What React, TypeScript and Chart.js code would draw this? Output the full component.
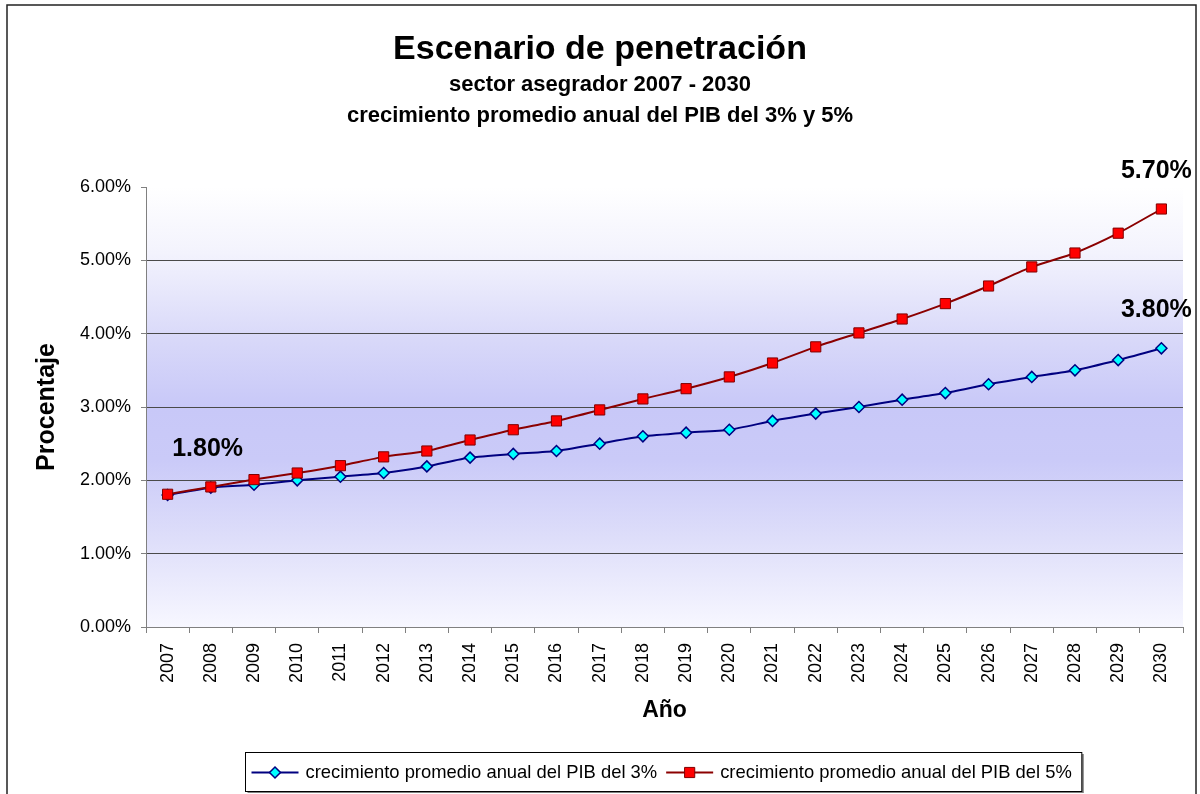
import React, { useEffect, useRef } from 'react';
import { Chart, registerables } from 'chart.js';

Chart.register(...registerables);

const FONT = '"Liberation Sans", Arial, Helvetica, sans-serif';

const years = ['2007', '2008', '2009', '2010', '2011', '2012', '2013', '2014', '2015', '2016', '2017', '2018', '2019', '2020', '2021', '2022', '2023', '2024', '2025', '2026', '2027', '2028', '2029', '2030'];

const serie3 = [1.80, 1.90, 1.94, 2.00, 2.05, 2.10, 2.19, 2.31, 2.36, 2.40, 2.50, 2.60, 2.65, 2.69, 2.81, 2.91, 3.00, 3.10, 3.19, 3.31, 3.41, 3.50, 3.64, 3.80];
const serie5 = [1.81, 1.91, 2.01, 2.10, 2.20, 2.32, 2.40, 2.55, 2.69, 2.81, 2.96, 3.11, 3.25, 3.41, 3.60, 3.82, 4.01, 4.20, 4.41, 4.65, 4.91, 5.10, 5.37, 5.70];

const label3 = 'crecimiento promedio anual del PIB del 3%';
const label5 = 'crecimiento promedio anual del PIB del 5%';

const yMin = 0;
const yMax = 6;
const yStep = 1;

const titleText = 'Escenario de penetración';
const subtitleLines = ['sector asegrador 2007 - 2030', 'crecimiento promedio anual del PIB del 3% y 5%'];
const xTitle = 'Año';
const yTitle = 'Procentaje';

// annotations: [datasetIndex, dataIndex, text]
const annotations: [number, number, string][] = [
  [0, 0, '1.80%'],
  [0, 23, '3.80%'],
  [1, 23, '5.70%'],
];

const backgroundPlugin = {
  id: 'bgPlot',
  beforeDraw(chart: any) {
    const { ctx, chartArea: a, width, height } = chart;
    ctx.save();
    ctx.fillStyle = '#ffffff';
    ctx.fillRect(0, 0, width, height);
    const g = ctx.createLinearGradient(0, a.top, 0, a.bottom);
    g.addColorStop(0, '#ffffff');
    g.addColorStop(0.15, '#f3f3fd');
    g.addColorStop(0.35, '#d8d8f9');
    g.addColorStop(0.5, '#c8c8f8');
    g.addColorStop(0.62, '#cacaf8');
    g.addColorStop(0.8, '#dedefa');
    g.addColorStop(1, '#f7f7ff');
    ctx.fillStyle = g;
    ctx.fillRect(a.left, a.top, a.right - a.left, a.bottom - a.top);
    ctx.restore();
  },
  afterDraw(chart: any) {
    const { ctx, height } = chart;
    ctx.save();
    ctx.strokeStyle = '#222222';
    ctx.lineWidth = 1.5;
    ctx.strokeRect(7, 5, 1189, height + 20);
    ctx.restore();
  },
};

const labelsPlugin = {
  id: 'valueLabels',
  afterDatasetsDraw(chart: any) {
    const { ctx } = chart;
    ctx.save();
    ctx.font = 'bold 25px ' + FONT;
    ctx.fillStyle = '#000000';
    ctx.textAlign = 'center';
    ctx.textBaseline = 'middle';
    annotations.forEach(([ds, idx, text], k) => {
      const el = chart.getDatasetMeta(ds).data[idx];
      if (!el) return;
      const dx = k === 0 ? 40 : -5;
      const dy = k === 0 ? -46 : -38;
      ctx.fillText(text, el.x + dx, el.y + dy);
    });
    ctx.restore();
  },
};

function drawMarker(ctx: any, style: string, x: number, y: number, r: number, fill: string, stroke: string, bw: number) {
  ctx.save();
  ctx.fillStyle = fill;
  ctx.strokeStyle = stroke;
  ctx.lineWidth = bw;
  ctx.beginPath();
  if (style === 'rectRot') {
    ctx.moveTo(x, y - r);
    ctx.lineTo(x + r, y);
    ctx.lineTo(x, y + r);
    ctx.lineTo(x - r, y);
    ctx.closePath();
  } else {
    const s = r * Math.SQRT1_2;
    ctx.rect(x - s, y - s, 2 * s, 2 * s);
  }
  ctx.fill();
  ctx.stroke();
  ctx.restore();
}

const legendPlugin = {
  id: 'boxLegend',
  afterDraw(chart: any) {
    const { ctx } = chart;
    const ds = chart.data.datasets;
    ctx.save();
    ctx.font = '18.4px ' + FONT;
    const lineLen = 47;
    const gapText = 7;
    const gapItem = 9;
    const padL = 6;
    const padR = 10;
    const widths = ds.map((d: any) => ctx.measureText(d.label).width);
    let total = padL + padR;
    widths.forEach((w: number, i: number) => {
      total += lineLen + gapText + w + (i < widths.length - 1 ? gapItem : 0);
    });
    const cx = 663.5;
    const top = 752;
    const h = 39;
    const left = Math.round(cx - total / 2) + 0.5;
    ctx.fillStyle = '#808080';
    ctx.fillRect(left + 2, top + 2, total, h);
    ctx.fillStyle = '#ffffff';
    ctx.fillRect(left, top, total, h);
    ctx.strokeStyle = '#000000';
    ctx.lineWidth = 1;
    ctx.strokeRect(left, top + 0.5, total, h);
    const cy = top + h / 2 + 1;
    let x = left + padL;
    ds.forEach((d: any, i: number) => {
      ctx.strokeStyle = d.borderColor;
      ctx.lineWidth = d.borderWidth;
      ctx.beginPath();
      ctx.moveTo(x, cy);
      ctx.lineTo(x + lineLen, cy);
      ctx.stroke();
      drawMarker(ctx, d.pointStyle, x + lineLen / 2, cy, d.pointRadius, d.pointBackgroundColor, d.pointBorderColor, d.pointBorderWidth);
      x += lineLen + gapText;
      ctx.fillStyle = '#000000';
      ctx.textAlign = 'left';
      ctx.textBaseline = 'middle';
      ctx.fillText(d.label, x, cy);
      x += widths[i] + gapItem;
    });
    ctx.restore();
  },
};

export default function App() {
  const ref = useRef<HTMLCanvasElement | null>(null);

  useEffect(() => {
    if (!ref.current) return;
    const chart = new Chart(ref.current, {
      type: 'line',
      data: {
        labels: years,
        datasets: [
          {
            label: label3,
            data: serie3,
            borderColor: '#000080',
            borderWidth: 2,
            pointStyle: 'rectRot',
            pointRadius: 5.5,
            pointHoverRadius: 5.5,
            pointBackgroundColor: '#00ffff',
            pointBorderColor: '#000080',
            pointBorderWidth: 1.5,
            tension: 0.2,
            fill: false,
            order: 2,
          },
          {
            label: label5,
            data: serie5,
            borderColor: '#8b0000',
            borderWidth: 2,
            pointStyle: 'rect',
            pointRadius: 7.2,
            pointHoverRadius: 7.2,
            pointBackgroundColor: '#ff0000',
            pointBorderColor: '#800000',
            pointBorderWidth: 1,
            tension: 0.2,
            fill: false,
            order: 1,
          },
        ],
      },
      options: {
        responsive: false,
        animation: false,
        devicePixelRatio: 1,
        layout: { padding: { top: 0, left: 0, right: 0, bottom: 47 } },
        plugins: {
          legend: { display: false },
          tooltip: { enabled: false },
          title: {
            display: true,
            text: titleText,
            color: '#000000',
            font: { family: FONT, size: 34, weight: 'bold', lineHeight: 1.2 },
            padding: { top: 29, bottom: 0 },
          },
          subtitle: {
            display: true,
            text: subtitleLines,
            color: '#000000',
            font: { family: FONT, size: 22, weight: 'bold', lineHeight: 1.4 },
            padding: { top: 0, bottom: 55.6 },
          },
        },
        scales: {
          x: {
            type: 'category',
            offset: true,
            grid: {
              offset: true,
              drawOnChartArea: false,
              drawTicks: true,
              tickLength: 6,
              tickColor: '#808080',
            },
            border: { display: true, color: '#808080', width: 1 },
            ticks: {
              autoSkip: false,
              minRotation: 90,
              maxRotation: 90,
              padding: 10,
              color: '#000000',
              font: { family: FONT, size: 18 },
            },
            title: {
              display: true,
              text: xTitle,
              color: '#000000',
              font: { family: FONT, size: 23, weight: 'bold', lineHeight: 1.2 },
              padding: { top: 0, bottom: 23 },
            },
            afterFit: (s: any) => { s.height = 120; },
          },
          y: {
            type: 'linear',
            position: 'left',
            min: yMin,
            max: yMax,
            ticks: {
              stepSize: yStep,
              padding: 10,
              color: '#000000',
              font: { family: FONT, size: 18 },
              callback: (v: any) => Number(v).toFixed(2) + '%',
            },
            grid: {
              color: (c: any) => (c.tick && c.tick.value === yMax ? 'rgba(0,0,0,0)' : '#4a4a4a'),
              lineWidth: 1,
              tickLength: 5,
              tickColor: '#808080',
            },
            border: { display: true, color: '#808080', width: 1 },
            title: {
              display: true,
              text: yTitle,
              color: '#000000',
              font: { family: FONT, size: 25, weight: 'bold', lineHeight: 1.2 },
              padding: { top: 32, bottom: 0 },
            },
            afterFit: (s: any) => { s.width = 146; },
          },
          pad: {
            type: 'linear',
            position: 'right',
            display: true,
            grid: { display: false, drawTicks: false },
            border: { display: false },
            ticks: { display: false },
            afterFit: (s: any) => { s.width = 17; },
          },
        },
      },
      plugins: [backgroundPlugin, labelsPlugin, legendPlugin],
    } as any);
    return () => chart.destroy();
  }, []);

  return (
    <div style={{ position: 'fixed', left: 0, top: 0, width: 1200, height: 794, background: '#ffffff' }}>
      <canvas ref={ref} width={1200} height={794} style={{ width: 1200, height: 794, display: 'block' }} />
    </div>
  );
}
